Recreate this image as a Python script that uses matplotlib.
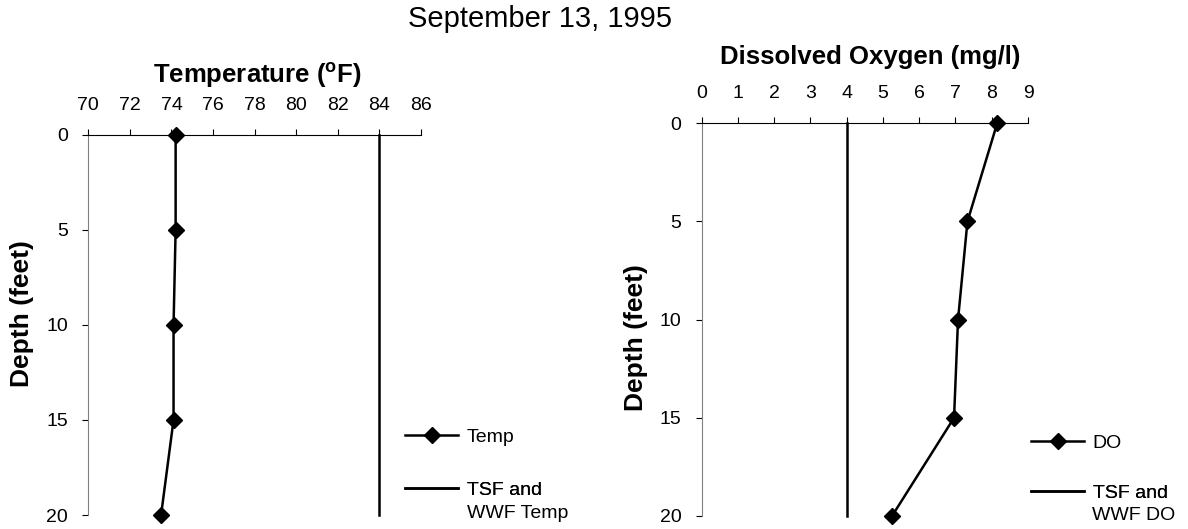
import matplotlib
matplotlib.use("Agg")
import matplotlib.pyplot as plt

plt.rcParams['font.family'] = ['Liberation Sans', 'DejaVu Sans']

# ---- data ----
depth = [0, 5, 10, 15, 20]
temp = [74.2, 74.2, 74.1, 74.1, 73.5]
do_vals = [8.15, 7.33, 7.07, 6.96, 5.25]
std_depth = [0, 20]
tsf_temp = [84, 84]
tsf_do = [4, 4]
temp_ticks = [70, 72, 74, 76, 78, 80, 82, 84, 86]
do_ticks = [0, 1, 2, 3, 4, 5, 6, 7, 8, 9]
depth_ticks = [0, 5, 10, 15, 20]

W, H = 1188, 529
fig = plt.figure(figsize=(W / 100, H / 100), dpi=100)

def px_ax(x0, x1, ytop, ybot):
    return [x0 / W, 1 - ybot / H, (x1 - x0) / W, (ybot - ytop) / H]

axL = fig.add_axes(px_ax(88.3, 421.0, 134.5, 515.0))
axR = fig.add_axes(px_ax(701.7, 1028.0, 123.3, 516.0))

LW = 1.8
MS = 8.5
TICK_FS = 14

def style(ax, xticks, xlim):
    ax.set_xlim(*xlim)
    ax.set_ylim(20, 0)
    ax.set_xticks(xticks)
    ax.set_yticks(depth_ticks)
    ax.xaxis.tick_top()
    for s in ['bottom', 'right']:
        ax.spines[s].set_visible(False)
    ax.spines['top'].set_color('black')
    ax.spines['top'].set_linewidth(0.8)
    ax.spines['left'].set_color('#808080')
    ax.spines['left'].set_linewidth(0.8)
    ax.tick_params(axis='x', direction='out', length=4.5, width=0.8,
                   pad=10.5, labelsize=TICK_FS, color='black')
    ax.tick_params(axis='y', direction='out', length=4.5, width=0.8,
                   pad=10, labelsize=TICK_FS, color='black')

style(axL, temp_ticks, (70, 86))
style(axR, do_ticks, (0, 9))

# Left: temperature
l1, = axL.plot(temp, depth, color='black', lw=LW, marker='D', ms=MS,
               clip_on=False, zorder=3)
l2, = axL.plot(tsf_temp, std_depth, color='black', lw=LW, clip_on=False)
axL.set_title('Temperature ($\\mathregular{^o}$F)', fontsize=18.5,
              fontweight='bold', y=1.1346, x=0.507, pad=0, va='baseline')
axL.set_ylabel('Depth (feet)', fontsize=19, fontweight='bold', va='center')
axL.yaxis.set_label_coords(-0.2, 0.53)

# Right: dissolved oxygen
r1, = axR.plot(do_vals, depth, color='black', lw=LW, marker='D', ms=MS,
               clip_on=False, zorder=3)
r2, = axR.plot(tsf_do, std_depth, color='black', lw=LW, clip_on=False)
axR.set_title('Dissolved Oxygen (mg/l)', fontsize=18.5, fontweight='bold',
              y=1.150, x=0.516, pad=0, va='baseline')
axR.set_ylabel('Depth (feet)', fontsize=19, fontweight='bold', va='center')
axR.yaxis.set_label_coords(-0.201, 0.455)

fig.text(540 / W, 1 - 27.5 / H, 'September 13, 1995', ha='center',
         va='baseline', fontsize=21)

LEG_FS = 14
def add_leg(ax, handle, label, xpx, ypx):
    leg = ax.legend([handle], [label], loc='center left',
                    bbox_to_anchor=(xpx / W, 1 - ypx / H),
                    bbox_transform=fig.transFigure, frameon=False,
                    fontsize=LEG_FS, borderpad=0, borderaxespad=0,
                    handlelength=2.75, handletextpad=0.42)
    ax.add_artist(leg)
    return leg

add_leg(axL, l1, 'Temp', 405, 437)
add_leg(axL, l2, 'TSF and', 405, 490)
fig.text(467 / W, 1 - 513 / H, 'WWF Temp', ha='left', va='center',
         fontsize=LEG_FS)

add_leg(axR, r1, 'DO', 1031, 443)
add_leg(axR, r2, 'TSF and', 1031, 493)
fig.text(1092 / W, 1 - 516 / H, 'WWF DO', ha='left', va='center',
         fontsize=LEG_FS)

fig.savefig('out.png', dpi=100)
